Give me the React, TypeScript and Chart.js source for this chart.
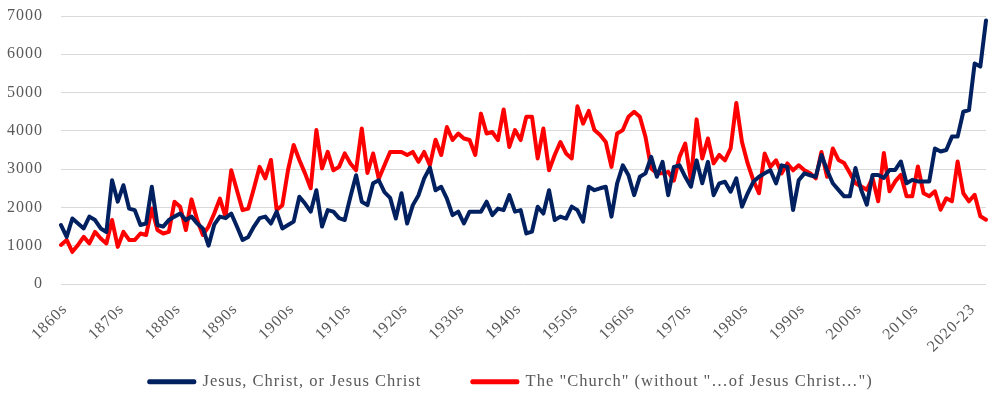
import React, { useEffect, useRef } from "react";
import { Chart, registerables } from "chart.js";

Chart.register(...registerables);

// Yearly mention counts, 1860 through 2023
const firstYear = 1860;
const lastYear = 2023;
const years: string[] = [];
for (let y = firstYear; y <= lastYear; y++) years.push(String(y));

const decadeLabels = [
  "1860s", "1870s", "1880s", "1890s", "1900s", "1910s", "1920s", "1930s", "1940s",
  "1950s", "1960s", "1970s", "1980s", "1990s", "2000s", "2010s", "2020-23",
];

const jesusChrist = [
  1540, 1230, 1710, 1580, 1450, 1760, 1670, 1450, 1360, 2710,
  2150, 2580, 1970, 1930, 1540, 1580, 2540, 1540, 1500, 1670,
  1760, 1840, 1670, 1760, 1580, 1450, 1000, 1550, 1760, 1720,
  1840, 1500, 1150, 1230, 1500, 1720, 1760, 1580, 1890, 1450,
  1540, 1630, 2280, 2100, 1890, 2450, 1500, 1930, 1890, 1720,
  1670, 2280, 2840, 2150, 2060, 2630, 2710, 2400, 2250, 1710,
  2370, 1580, 2060, 2320, 2760, 3040, 2450, 2540, 2230, 1800,
  1890, 1580, 1890, 1890, 1890, 2150, 1800, 1970, 1930, 2320,
  1890, 1930, 1320, 1370, 2020, 1840, 2450, 1670, 1760, 1710,
  2020, 1930, 1630, 2540, 2450, 2500, 2540, 1760, 2630, 3100,
  2840, 2320, 2800, 2890, 3320, 2800, 3190, 2320, 3060, 3100,
  2800, 2540, 3230, 2630, 3190, 2320, 2630, 2670, 2410, 2760,
  2020, 2370, 2670, 2800, 2890, 2970, 2630, 3100, 3060, 1930,
  2710, 2890, 2840, 2800, 3370, 2970, 2630, 2460, 2290, 2290,
  3030, 2460, 2070, 2850, 2850, 2770, 2980, 2980, 3200, 2630,
  2720, 2680, 2680, 2680, 3540, 3460, 3500, 3850, 3850, 4500,
  4540, 5760, 5680, 6880,
];

const church = [
  1020, 1150, 840, 1020, 1230, 1060, 1360, 1190, 1060, 1670,
  970, 1360, 1150, 1150, 1320, 1280, 1970, 1410, 1320, 1360,
  2150, 2020, 1410, 2210, 1670, 1280, 1500, 1840, 2230, 1750,
  2970, 2450, 1930, 1970, 2500, 3060, 2760, 3240, 1930, 2060,
  2970, 3630, 3240, 2890, 2500, 4020, 3020, 3450, 2970, 3060,
  3410, 3150, 2970, 4060, 2900, 3410, 2750, 3100, 3450, 3450,
  3450, 3370, 3450, 3190, 3450, 3100, 3770, 3370, 4100, 3760,
  3930, 3800, 3760, 3370, 4450, 3930, 3970, 3760, 4560, 3580,
  4020, 3760, 4370, 4370, 3280, 4060, 2970, 3370, 3710, 3410,
  3280, 4640, 4190, 4520, 4020, 3890, 3710, 3060, 3930, 4020,
  4370, 4500, 4370, 3840, 3020, 2890, 2890, 2930, 2700, 3320,
  3670, 2710, 4300, 3280, 3800, 3150, 3370, 3230, 3540, 4730,
  3710, 3150, 2710, 2370, 3410, 3060, 3230, 2890, 3150, 2970,
  3100, 2970, 2890, 2760, 3450, 2800, 3540, 3240, 3160, 2900,
  2630, 2550, 2460, 2770, 2160, 3420, 2420, 2680, 2850, 2290,
  2290, 3070, 2370, 2290, 2420, 1940, 2240, 2160, 3200, 2370,
  2160, 2330, 1770, 1680,
];

const NAVY = "#002060";
const RED = "#FF0000";
const TEXT = "#595959";
const FONT = "'Liberation Serif', 'DejaVu Serif', serif";

// Slightly open tracking for all chart text
const textSpacing = {
  id: "textSpacing",
  beforeLayout(chart: any) {
    chart.ctx.letterSpacing = "1px";
  },
  beforeDraw(chart: any) {
    chart.ctx.letterSpacing = "1px";
  },
};

// Tick labels may overflow their axis box (tight axis sizes below)
const unclipLabels = (scale: any) => {
  scale._computeLabelArea = () => undefined;
};

export default function App() {
  const canvasRef = useRef<HTMLCanvasElement>(null);

  useEffect(() => {
    if (!canvasRef.current) return;
    const chart = new Chart(canvasRef.current, {
      type: "line",
      data: {
        labels: years,
        datasets: [
          {
            label: "Jesus, Christ, or Jesus Christ",
            data: jesusChrist,
            borderColor: NAVY,
            backgroundColor: NAVY,
            borderWidth: 4,
            pointRadius: 0,
            tension: 0,
            borderJoinStyle: "round",
            borderCapStyle: "round",
          },
          {
            label: 'The "Church" (without "…of Jesus Christ…")',
            data: church,
            borderColor: RED,
            backgroundColor: RED,
            borderWidth: 4,
            pointRadius: 0,
            tension: 0,
            borderJoinStyle: "round",
            borderCapStyle: "round",
          },
        ],
      },
      plugins: [textSpacing],
      options: {
        responsive: false,
        animation: false,
        layout: { padding: { left: 36, right: 13, top: 16, bottom: 0 } },
        plugins: {
          tooltip: { enabled: false },
          legend: {
            position: "bottom",
            labels: {
              boxWidth: 45,
              boxHeight: 1,
              padding: 51,
              color: TEXT,
              font: { family: FONT, size: 16.5 },
            },
          },
        },
        scales: {
          x: {
            offset: false,
            grid: { display: false, drawTicks: false },
            border: { display: false },
            afterFit: (scale: any) => {
              scale.height = 38.5;
              scale.paddingLeft = 0;
              scale.paddingRight = 0;
              unclipLabels(scale);
            },
            ticks: {
              autoSkip: false,
              maxRotation: 45,
              minRotation: 45,
              labelOffset: 4,
              padding: 16,
              color: TEXT,
              font: { family: FONT, size: 16 },
              callback: (_v: any, i: number) =>
                i % 10 === 0 ? decadeLabels[i / 10] : "",
            },
          },
          y: {
            min: 0,
            max: 7000,
            border: { display: false },
            grid: { color: "#D9D9D9", lineWidth: 1, drawTicks: false },
            afterFit: (scale: any) => {
              scale.width = 25;
              scale.paddingTop = 0;
              scale.paddingBottom = 0;
              unclipLabels(scale);
            },
            ticks: {
              stepSize: 1000,
              padding: 18,
              color: TEXT,
              font: { family: FONT, size: 16 },
              callback: (v: any) => String(v),
            },
          },
        },
      },
    });
    return () => chart.destroy();
  }, []);

  return (
    <div style={{ position: "fixed", left: 0, top: 0, width: 999, height: 400, background: "#fff" }}>
      <canvas ref={canvasRef} width={999} height={400} />
    </div>
  );
}
